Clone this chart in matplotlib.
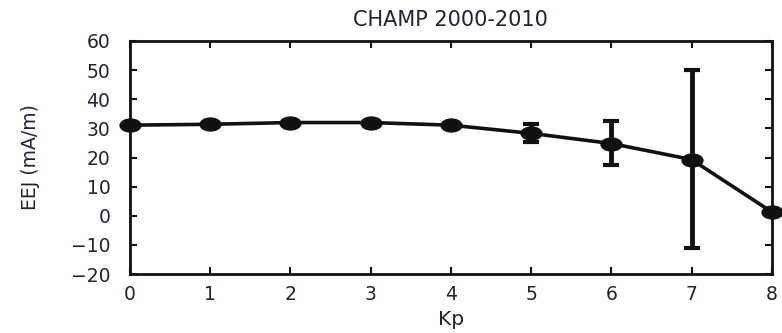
import matplotlib
matplotlib.use("Agg")
import matplotlib.pyplot as plt
from matplotlib.path import Path
from matplotlib.transforms import Affine2D

kp = [0, 1, 2, 3, 4, 5, 6, 7, 8]
eej = [31.1, 31.4, 32.0, 32.0, 31.1, 28.3, 24.8, 19.3, 1.3]
err_lo = [0.5, 0.5, 0.5, 0.5, 0.5, 2.9, 7.4, 30.3, 0.5]
err_hi = [0.5, 0.5, 0.5, 0.5, 0.5, 3.2, 7.7, 30.7, 0.5]

yticks = [60, 50, 40, 30, 20, 10, 0, -10, -20]
ytick_labels = ["60", "50", "40", "30", "20", "10", "0", "\u221210", "\u221220"]

plt.rcParams['font.family'] = ['DejaVu Sans']

# markers in the scan are squashed (wider than tall)
ellipse = Path.unit_circle().transformed(Affine2D().scale(1.0, 0.62))

fig = plt.figure(figsize=(7.82, 3.33), dpi=100)
ax = fig.add_axes([0.166, 0.177, 0.821, 0.700])

ax.errorbar(kp, eej, yerr=[err_lo, err_hi], color='#111111', lw=2.6,
            marker=ellipse, markersize=15, elinewidth=3.5, capsize=6,
            capthick=3, clip_on=False, zorder=3)

ax.set_xlim(0, 8)
ax.set_ylim(-20, 60)
ax.set_xticks(kp)
ax.set_yticks(yticks)
ax.set_yticklabels(ytick_labels)
ax.tick_params(direction='in', length=5, width=1.5, top=True, right=True,
               labelsize=13.5, colors='#111111', labelcolor='#222233')
ax.tick_params(axis='y', pad=14)
ax.tick_params(axis='x', pad=8)
for s in ax.spines.values():
    s.set_linewidth(2)
    s.set_color('#111111')

ax.set_title("CHAMP 2000-2010", fontsize=15, color='#222233', pad=11)
ax.set_xlabel("Kp", fontsize=14.5, color='#222233', labelpad=4)
ax.set_ylabel("EEJ (mA/m)", fontsize=13.5, color='#222233')
ax.yaxis.set_label_coords(-0.14, 0.5)

fig.savefig("out.png", dpi=100)
